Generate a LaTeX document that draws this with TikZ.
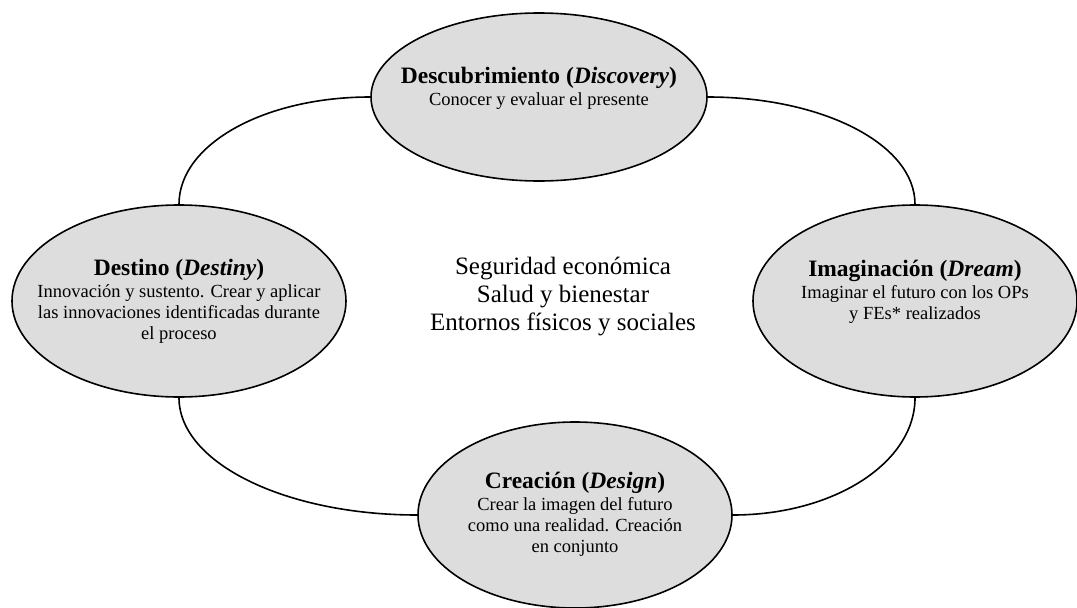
\documentclass[tikz,border=0pt]{standalone}
\usepackage{fontspec}
\setmainfont{Liberation Serif}
\usetikzlibrary{shapes.geometric}
\definecolor{phasegray}{HTML}{DDDDDD}
\begin{document}
\begin{tikzpicture}[x=1pt,y=-1pt,
  phase/.style={ellipse, draw=black, line width=1.6pt, fill=phasegray, inner sep=0pt},
  conn/.style={draw=black, line width=1.6pt},
  phasetext/.style={align=center, inner sep=0pt, font=\fontsize{18.5}{21}\selectfont},
  centertext/.style={align=center, inner sep=0pt, font=\fontsize{25}{28}\selectfont}]
\newcommand{\phtitle}[1]{{\fontsize{23.5}{25}\selectfont\bfseries #1}}
\useasboundingbox (0,0) rectangle (1077,608);
\node[phase, minimum width=336pt, minimum height=168pt] (desc) at (539,97) {};
\node[phase, minimum width=334pt, minimum height=192pt] (dest) at (179,301) {};
\node[phase, minimum width=324pt, minimum height=192pt] (imag) at (915,301) {};
\node[phase, minimum width=314pt, minimum height=186pt] (crea) at (575,515) {};
\draw[conn] (dest.north) .. controls +(0,-60) and +(-106,0) .. (desc.west);
\draw[conn] (desc.east) .. controls +(115,0) and +(0,-60) .. (imag.north);
\draw[conn] (imag.south) .. controls +(0,65) and +(101,0) .. (crea.east);
\draw[conn] (dest.south) .. controls +(0,65) and +(-132,0) .. (crea.west);
\node[phasetext] (desct) at (539,88) {\phtitle{Descubrimiento (\textit{Discovery})}\\[1pt] Conocer y evaluar el presente};
\node[phasetext] (destt) at (179,301) {\phtitle{Destino (\textit{Destiny})}\\[1pt] Innovación y sustento. Crear y aplicar\\ las innovaciones identificadas durante\\ el proceso};
\node[phasetext] (imagt) at (915,292) {\phtitle{Imaginación (\textit{Dream})}\\[1pt] Imaginar el futuro con los OPs\\ y FEs* realizados};
\node[phasetext] (creat) at (575,514) {\phtitle{Creación (\textit{Design})}\\[1pt] Crear la imagen del futuro\\ como una realidad. Creación\\ en conjunto};
\node[centertext] (centro) at (563,297) {Seguridad económica\\ Salud y bienestar\\ Entornos físicos y sociales};
\end{tikzpicture}
\end{document}
